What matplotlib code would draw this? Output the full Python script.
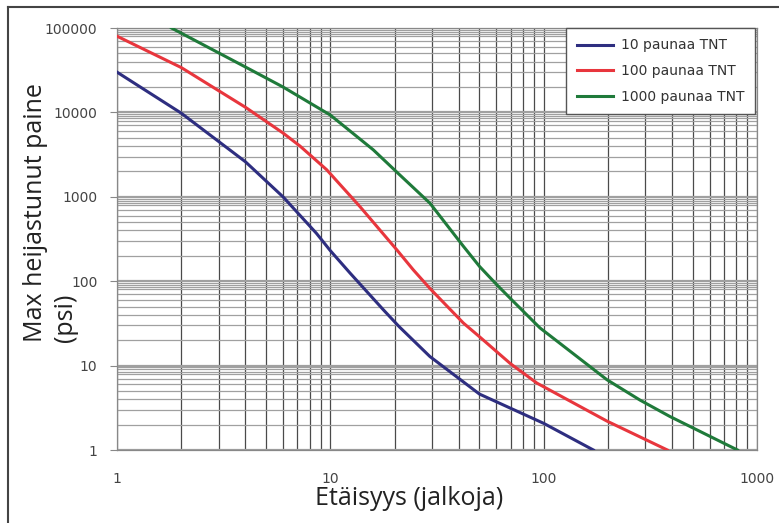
import numpy as np
import matplotlib
matplotlib.use('Agg')
import matplotlib.pyplot as plt
from matplotlib.ticker import LogLocator, NullFormatter
from matplotlib.lines import Line2D

# values (distance in feet, pressure in psi)
dist_10 = [1, 2, 4, 6, 8.6, 10, 12.4, 17.7, 21, 29.3, 50, 100, 171]
psi_10 = [30000, 9800, 2600, 1000, 370, 230, 124, 46, 29, 12.8, 4.6, 2.07, 1]

dist_100 = [1, 2, 4, 6, 7.2, 9.6, 13.8, 20.5, 24.5, 29.3, 42, 50, 70, 93, 198, 380]
psi_100 = [80000, 34000, 11500, 5700, 4000, 2100, 760, 235, 136, 82, 32, 22, 10.5, 6.2, 2.2, 1]

dist_1000 = [1.8, 4, 6, 10, 15.9, 21, 29.3, 42, 50, 60, 70, 96, 198, 283, 390, 810]
psi_1000 = [100000, 34500, 20000, 9300, 3600, 1850, 840, 260, 150, 92, 62, 28, 6.8, 3.9, 2.5, 1]

labels = ["10 paunaa TNT", "100 paunaa TNT", "1000 paunaa TNT"]
colors = ["#2e2e80", "#e8363d", "#1f7a3a"]

x_ticks = [1, 10, 100, 1000]
y_ticks = [1, 10, 100, 1000, 10000, 100000]

W, H = 779, 523
fig = plt.figure(figsize=(W/100, H/100), dpi=100)
ax = fig.add_axes([117/W, 1-450/H, 640/W, 422/H])

series = [(dist_10, psi_10), (dist_100, psi_100), (dist_1000, psi_1000)]
for (xs, ys), lab, col in zip(series, labels, colors):
    ax.plot(xs, ys, color=col, lw=2.2, label=lab, zorder=3, solid_joinstyle='round')

ax.set_xscale('log')
ax.set_yscale('log')
ax.set_xlim(1, 1000)
ax.set_ylim(1, 100000)

ax.xaxis.set_minor_locator(LogLocator(base=10, subs=np.arange(2, 10), numticks=20))
ax.yaxis.set_minor_locator(LogLocator(base=10, subs=[2, 3, 4, 5, 6, 7, 8, 8.5, 9, 9.5], numticks=20))
ax.set_xticks(x_ticks)
ax.set_xticklabels([str(t) for t in x_ticks])
ax.set_yticks(y_ticks)
ax.set_yticklabels([str(t) for t in y_ticks])
ax.xaxis.set_minor_formatter(NullFormatter())
ax.yaxis.set_minor_formatter(NullFormatter())

# grid: dark vertical lines, lighter grey horizontal lines
ax.grid(True, which='both', axis='x', color='#4a4a4a', lw=0.9)
ax.grid(True, which='major', axis='y', color='#a0a0a0', lw=1.6)
ax.grid(True, which='minor', axis='y', color='#a0a0a0', lw=0.9)
ax.set_axisbelow(True)

for s in ax.spines.values():
    s.set_color('#888888')
    s.set_linewidth(0.9)

ax.tick_params(axis='both', which='minor', length=0)
ax.tick_params(axis='y', which='major', length=5, color='#888888', pad=9,
               labelsize=10, labelcolor='#444444')
ax.tick_params(axis='x', which='major', length=0, pad=16,
               labelsize=10, labelcolor='#444444')

# axis titles, anchored on their baselines
fig.text(315/W, 1-505/H, "Etäisyys (jalkoja)", ha='left', va='baseline',
         fontsize=18, family='Open Sans', color='#222222')
fig.text(42/W, 1-342/H, "Max heijastunut paine", ha='left', va='baseline',
         rotation=90, rotation_mode='anchor', fontsize=18, family='Open Sans',
         color='#222222')
fig.text(72/W, 1-342/H, "(psi)", ha='left', va='baseline',
         rotation=90, rotation_mode='anchor', fontsize=18, family='Open Sans',
         color='#222222')

leg = ax.legend(loc='upper right', bbox_to_anchor=(0.997, 1.0), borderaxespad=0,
                fancybox=False, framealpha=1, edgecolor='#555555', fontsize=10,
                handlelength=2.6, handletextpad=0.6, labelspacing=0.85, borderpad=0.75)
leg.get_frame().set_linewidth(1.0)
for t in leg.get_texts():
    t.set_color('#333333')

# outer picture frame (top and left edges visible)
fig.add_artist(Line2D([8/W, 1.0], [1-7/H, 1-7/H], color='#444444', lw=1.5))
fig.add_artist(Line2D([8/W, 8/W], [0.0, 1-7/H], color='#444444', lw=1.5))

fig.savefig('out.png', dpi=100)
